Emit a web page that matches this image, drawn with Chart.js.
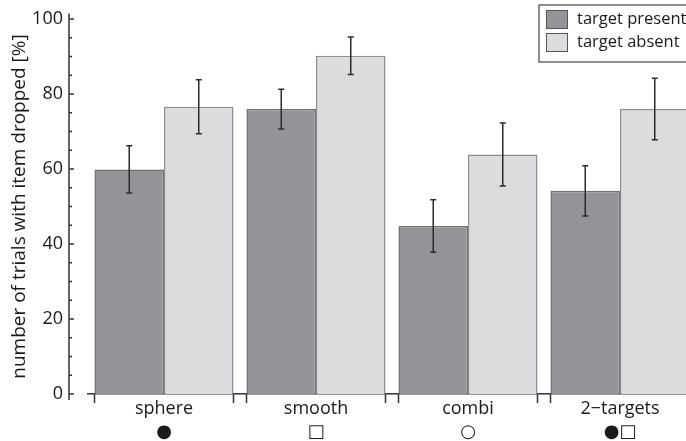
<!DOCTYPE html>
<html>
<head>
<meta charset="utf-8">
<script src="https://cdn.jsdelivr.net/npm/chart.js@4/dist/chart.umd.min.js"></script>
<style>
  html, body { margin: 0; padding: 0; background: #fff; overflow: hidden; }
  #wrap { width: 696px; height: 441px; }
</style>
</head>
<body>
<div id="wrap"><canvas id="myChart" width="696" height="441"></canvas></div>
<script>
// data
const categories = [["sphere", "●"], ["smooth", "□"], ["combi", "○"], ["2\u2212targets", "●□"]];
const presentVals = [59.9, 76.0, 44.8, 54.2];
const presentErr = [6.3, 5.3, 7.0, 6.7];
const absentVals = [76.6, 90.2, 63.9, 76.0];
const absentErr = [7.2, 5.0, 8.4, 8.2];
const yTicks = [0, 20, 40, 60, 80, 100];

const FONT = "'Open Sans', 'DejaVu Sans', sans-serif";
const catPct = 139 / 152;

// error bars from each dataset's err array
const errorBars = {
  id: "errorBars",
  afterDatasetsDraw(chart) {
    const c = chart.ctx;
    const y = chart.scales.y;
    c.save();
    c.strokeStyle = "#2a2a2a";
    c.lineWidth = 1.5;
    chart.data.datasets.forEach((ds, di) => {
      const meta = chart.getDatasetMeta(di);
      meta.data.forEach((bar, i) => {
        const top = y.getPixelForValue(ds.data[i] + ds.err[i]);
        const bot = y.getPixelForValue(ds.data[i] - ds.err[i]);
        c.beginPath();
        c.moveTo(bar.x, top); c.lineTo(bar.x, bot);
        c.moveTo(bar.x - 3, top); c.lineTo(bar.x + 3, top);
        c.moveTo(bar.x - 3, bot); c.lineTo(bar.x + 3, bot);
        c.stroke();
      });
    });
    c.restore();
  }
};

// y axis drawn left of the plot with inward ticks, x ticks at group edges, boxed legend
const axesAndLegend = {
  id: "axesAndLegend",
  afterDraw(chart) {
    const c = chart.ctx;
    const y = chart.scales.y;
    const x = chart.scales.x;
    const area = chart.chartArea;
    const ax = 69;
    c.save();
    c.strokeStyle = "#333";
    c.lineWidth = 1.5;
    c.beginPath();
    c.moveTo(ax, y.getPixelForValue(101.5));
    c.lineTo(ax, area.bottom + 6);
    for (let v = 0; v <= 100; v += 5) {
      const py = y.getPixelForValue(v);
      c.moveTo(ax, py);
      c.lineTo(ax + (v % 20 === 0 ? 5 : 3), py);
    }
    c.stroke();

    // ticks at group edges
    c.beginPath();
    categories.forEach((cat, i) => {
      const cx = x.getPixelForValue(i);
      const half = (x.width / categories.length) * catPct / 2;
      [cx - half, cx + half].forEach(px => {
        c.moveTo(px, area.bottom);
        c.lineTo(px, area.bottom + 9);
      });
    });
    c.stroke();

    // legend
    const lx = 539, ly = 5;
    c.fillStyle = "#fff";
    c.fillRect(lx, ly, 160, 57);
    c.lineWidth = 1.2;
    c.strokeStyle = "#444";
    c.strokeRect(lx, ly, 160, 57);
    chart.data.datasets.forEach((ds, di) => {
      const sy = 10 + di * 23;
      c.fillStyle = ds.backgroundColor;
      c.fillRect(lx + 7, sy, 22, 19);
      c.strokeStyle = "#555";
      c.lineWidth = 1;
      c.strokeRect(lx + 7.5, sy + 0.5, 21, 18);
      c.fillStyle = "#1a1a1a";
      c.font = "16.5px " + FONT;
      c.textBaseline = "middle";
      c.fillText(ds.label, lx + 38, sy + 9.5);
    });
    c.restore();
  }
};

const ctx = document.getElementById("myChart");
const myChart = new Chart(ctx, {
  type: "bar",
  data: {
    labels: categories,
    datasets: [
      {
        label: "target present",
        data: presentVals,
        err: presentErr,
        backgroundColor: "#949498",
        borderColor: "#707073",
        borderWidth: 1.5
      },
      {
        label: "target absent",
        data: absentVals,
        err: absentErr,
        backgroundColor: "#dcdcde",
        borderColor: "#8e8e91",
        borderWidth: 1.5
      }
    ]
  },
  options: {
    responsive: false,
    animation: false,
    layout: { padding: { top: 19, right: 0, left: 0, bottom: 0 } },
    datasets: { bar: { barPercentage: 1.0, categoryPercentage: catPct } },
    plugins: {
      legend: { display: false },
      tooltip: { enabled: false }
    },
    scales: {
      x: {
        grid: { display: false, drawTicks: false },
        border: { display: true, color: "#333", width: 1.5 },
        ticks: {
          color: "#1a1a1a",
          padding: 3,
          maxRotation: 0,
          font: { family: FONT, size: 18, lineHeight: 1.28 }
        },
        afterFit(s) { s.height = 47; s.paddingLeft = 0; s.paddingRight = 0; }
      },
      y: {
        min: 0,
        max: 100,
        afterBuildTicks(s) { s.ticks = yTicks.map(v => ({ value: v })); },
        grid: { display: false, drawTicks: false },
        border: { display: false },
        ticks: {
          color: "#1a1a1a",
          padding: 25,
          font: { family: FONT, size: 18 }
        },
        title: {
          display: true,
          text: "number of trials with item dropped [%]",
          color: "#1a1a1a",
          padding: { top: 8, bottom: 0 },
          font: { family: FONT, size: 19 }
        },
        afterFit(s) { s.width = 88; s.paddingTop = 0; s.paddingBottom = 0; }
      }
    }
  },
  plugins: [errorBars, axesAndLegend]
});
</script>
</body>
</html>
